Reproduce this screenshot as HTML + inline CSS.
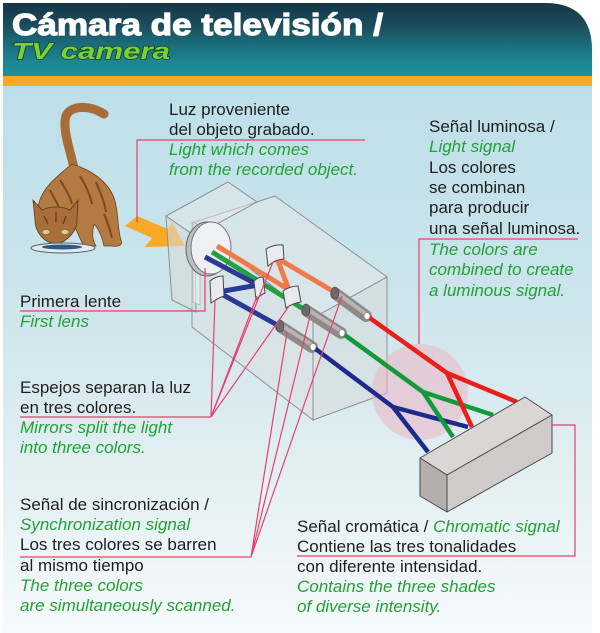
<!DOCTYPE html>
<html><head><meta charset="utf-8"><style>
html,body{margin:0;padding:0;background:#fff;}
svg{display:block;}
text{font-family:"Liberation Sans",Arial,sans-serif;}
</style></head><body>
<svg width="600" height="633" viewBox="0 0 600 633" xmlns="http://www.w3.org/2000/svg">
<defs>
<linearGradient id="hdr" x1="0" y1="0" x2="0" y2="1">
<stop offset="0" stop-color="#163646"/>
<stop offset="0.3" stop-color="#1b4d5c"/>
<stop offset="0.55" stop-color="#1b6b79"/>
<stop offset="0.8" stop-color="#1d8694"/>
<stop offset="1" stop-color="#1f909d"/>
</linearGradient>
<linearGradient id="body" x1="0" y1="0" x2="0" y2="1">
<stop offset="0" stop-color="#bddfe9"/>
<stop offset="0.4" stop-color="#cde5ec"/>
<stop offset="0.75" stop-color="#e6f1f4"/>
<stop offset="1" stop-color="#f6fafb"/>
</linearGradient>
</defs>

<!-- background panel -->
<rect x="3" y="85" width="589" height="548" fill="url(#body)"/>
<path d="M3,3 L545,3 Q592,3 592,50 L592,77 L3,77 Z" fill="url(#hdr)"/>
<rect x="3" y="76" width="589" height="10" fill="#f8a928"/>

<!-- title -->
<text x="12" y="35" font-weight="bold" font-size="31" fill="#fff" stroke="#fff" stroke-width="1.2" textLength="371" lengthAdjust="spacingAndGlyphs">Cámara de televisión /</text>
<text x="12" y="59" font-weight="bold" font-style="italic" font-size="23" fill="#7ccf3c" stroke="#124622" stroke-width="1.4" paint-order="stroke" textLength="158" lengthAdjust="spacingAndGlyphs">TV camera</text>

<!-- cat -->
<path d="M74,168 C70,150 62,128 66,116 C70,106 88,104 104,114" fill="none" stroke="#a86c38" stroke-width="9" stroke-linecap="round"/>
<path d="M38,208 C40,190 55,178 72,164 C92,170 108,182 114,198 C119,212 117,228 121,240 C123,245 119,247 112,246 L104,246 C102,236 98,228 94,224 C92,232 92,240 96,246 L84,246 C80,240 78,232 74,226 Z" fill="#b37a42" stroke="#6a401c" stroke-width="0.8"/>
<path d="M60,180 C66,190 70,196 72,204 M80,176 C86,186 90,194 92,204 M96,182 C100,192 104,200 106,212 M104,214 C108,222 110,230 112,238 M50,190 C54,198 58,204 60,210" fill="none" stroke="#7a4a22" stroke-width="2"/>
<path d="M33,200 L42,210 C50,206 62,206 70,210 L78,200 L77,218 C78,230 68,242 56,244 C44,243 35,232 35,220 Z" fill="#a86e3a" stroke="#5e3816" stroke-width="0.8"/>
<path d="M44,216 L48,224 M56,212 L56,222 M66,216 L63,224" stroke="#6a4020" stroke-width="1.5"/>
<ellipse cx="46" cy="232" rx="3.5" ry="2" fill="#c8d89a"/>
<ellipse cx="65" cy="232" rx="3.5" ry="2" fill="#c8d89a"/>
<ellipse cx="63" cy="248" rx="32" ry="5" fill="#e3e9ec" stroke="#506070" stroke-width="1"/>
<ellipse cx="62" cy="247" rx="20" ry="2.5" fill="#2c5a88"/>

<!-- orange arrow -->
<polygon points="137,216 168,229 172,222 185,246 145,247 152,238 125,226" fill="#f8a928"/>

<!-- camera boxes -->
<g stroke="#8c9295" stroke-width="1">
<polygon points="192,223 313,318 313,420 192,327" fill="rgba(222,224,226,0.55)"/>
<polygon points="192,223 275,196 387,277 313,318" fill="rgba(230,232,234,0.5)"/>
<polygon points="313,318 387,277 387,393 313,420" fill="rgba(215,218,220,0.55)"/>
<polygon points="166,216 228,182 257,202 195,236" fill="rgba(230,232,234,0.5)"/>
<polygon points="166,216 195,236 196,312 172,300" fill="rgba(215,218,220,0.55)"/>
</g>
<polygon points="193,222 200,226 200,305 193,302" fill="rgba(240,240,242,0.6)" stroke="#9aa" stroke-width="0.6"/>

<!-- lens -->
<ellipse cx="207" cy="249" rx="21" ry="27" fill="#b9bec2" stroke="#666" stroke-width="1"/>
<ellipse cx="211" cy="248" rx="20" ry="26" fill="#eef0f2" stroke="#777" stroke-width="1"/>

<!-- internal beams -->
<g stroke-width="5" stroke-linecap="butt" fill="none">
<path d="M217,246 L291,291" stroke="#f07a48"/>
<path d="M212,252 L305,310" stroke="#25a040"/>
<path d="M205,257 L258,285 L218,292 L279,326" stroke="#2a3896"/>
<path d="M290,293 L277,258 L336,293" stroke="#f07a48"/>
</g>

<!-- mirrors -->
<g fill="#e8eaee" stroke="#4a4a4a" stroke-width="1">
<path d="M266,249 Q274,244 283,245 L284,259 Q276,259 268,266 Z"/>
<path d="M210,281 Q216,276 223,276 L224,296 Q218,298 211,303 Z"/>
<path d="M254,281 Q258,277 263,277 L265,293 Q260,295 256,300 Z"/>
<path d="M283,291 Q290,286 298,286 L301,302 Q293,303 286,308 Z"/>
</g>

<!-- tubes -->
<g stroke-linecap="round">
<line x1="281" y1="327" x2="312" y2="347" stroke="#8f8a8a" stroke-width="12"/>
<line x1="281" y1="325" x2="312" y2="345" stroke="#b9b4b4" stroke-width="4"/>
<line x1="307" y1="311" x2="341" y2="333" stroke="#8f8a8a" stroke-width="12"/>
<line x1="307" y1="309" x2="341" y2="331" stroke="#b9b4b4" stroke-width="4"/>
<line x1="336" y1="294" x2="366" y2="316" stroke="#8f8a8a" stroke-width="12"/>
<line x1="336" y1="292" x2="366" y2="314" stroke="#b9b4b4" stroke-width="4"/>
</g>
<g fill="#6f6a6a" stroke="#444" stroke-width="0.6">
<ellipse cx="280" cy="326" rx="4" ry="6"/>
<ellipse cx="306" cy="310" rx="4" ry="6"/>
<ellipse cx="335" cy="293" rx="4" ry="6"/>
</g>

<!-- pink circle -->
<circle cx="420" cy="392" r="48" fill="rgba(236,180,196,0.55)"/>

<!-- output beams -->
<g stroke-width="4.5" fill="none" stroke-linejoin="round">
<path d="M313,347 L393,407 L468,427 M393,407 L428,452" stroke="#1c2a8c"/>
<path d="M342,333 L423,392 L493,415 M423,392 L453,437" stroke="#159a3a"/>
<path d="M367,316 L447,373 L517,402 M447,373 L472,427" stroke="#e8201c"/>
</g>
<g fill="#fff" stroke="#888" stroke-width="0.8">
<ellipse cx="313" cy="347" rx="3" ry="3.5"/>
<ellipse cx="342" cy="333" rx="3" ry="3.5"/>
<ellipse cx="367" cy="316" rx="3" ry="3.5"/>
</g>

<!-- receiver box -->
<g stroke="#4a4a4a" stroke-width="1" stroke-linejoin="round">
<polygon points="420,458 525,397 552,415 447,475" fill="#dad6d6"/>
<polygon points="420,458 447,475 447,512 420,496" fill="#b3afaf"/>
<polygon points="447,475 552,415 552,453 447,512" fill="#cfcbcb"/>
</g>

<!-- leader lines -->
<g stroke="#e8406c" stroke-width="1.2" fill="none">
<path d="M365,140 L137,140 L137,222"/>
<path d="M578,239 L419,239 L419,344"/>
<path d="M20,311 L205,311 L205,268"/>
<path d="M20,417 L211,417 M211,417 L215,300 M211,417 L257,296 M211,417 L273,262 M211,417 L289,306"/>
<path d="M20,557 L251,557 M251,557 L287,332 M251,557 L310,316 M251,557 L342,296"/>
<path d="M297,556 L575,556 L575,425 L552,425"/>
</g>

<!-- labels -->
<g font-size="17" fill="#1e1e1e">
<text x="169" y="115">Luz proveniente</text>
<text x="169" y="135">del objeto grabado.</text>
<text x="169" y="155" fill="#22a234" font-style="italic">Light which comes</text>
<text x="169" y="175" fill="#22a234" font-style="italic">from the recorded object.</text>

<text x="429" y="132">Señal luminosa /</text>
<text x="429" y="152" fill="#22a234" font-style="italic">Light signal</text>
<text x="429" y="173">Los colores</text>
<text x="429" y="193">se combinan</text>
<text x="429" y="213">para producir</text>
<text x="429" y="234">una señal luminosa.</text>
<text x="429" y="255" fill="#22a234" font-style="italic">The colors are</text>
<text x="429" y="275" fill="#22a234" font-style="italic">combined to create</text>
<text x="429" y="296" fill="#22a234" font-style="italic">a luminous signal.</text>

<text x="20" y="307">Primera lente</text>
<text x="20" y="327" fill="#22a234" font-style="italic">First lens</text>

<text x="20" y="393">Espejos separan la luz</text>
<text x="20" y="413">en tres colores.</text>
<text x="20" y="433" fill="#22a234" font-style="italic">Mirrors split the light</text>
<text x="20" y="453" fill="#22a234" font-style="italic">into three colors.</text>

<text x="20" y="510">Señal de sincronización /</text>
<text x="20" y="530" fill="#22a234" font-style="italic">Synchronization signal</text>
<text x="20" y="550">Los tres colores se barren</text>
<text x="20" y="571">al mismo tiempo</text>
<text x="20" y="591" fill="#22a234" font-style="italic">The three colors</text>
<text x="20" y="611" fill="#22a234" font-style="italic">are simultaneously scanned.</text>

<text x="297" y="532">Señal cromática / <tspan fill="#22a234" font-style="italic">Chromatic signal</tspan></text>
<text x="297" y="552">Contiene las tres tonalidades</text>
<text x="297" y="572">con diferente intensidad.</text>
<text x="297" y="592" fill="#22a234" font-style="italic">Contains the three shades</text>
<text x="297" y="612" fill="#22a234" font-style="italic">of diverse intensity.</text>
</g>
</svg>
</body></html>
